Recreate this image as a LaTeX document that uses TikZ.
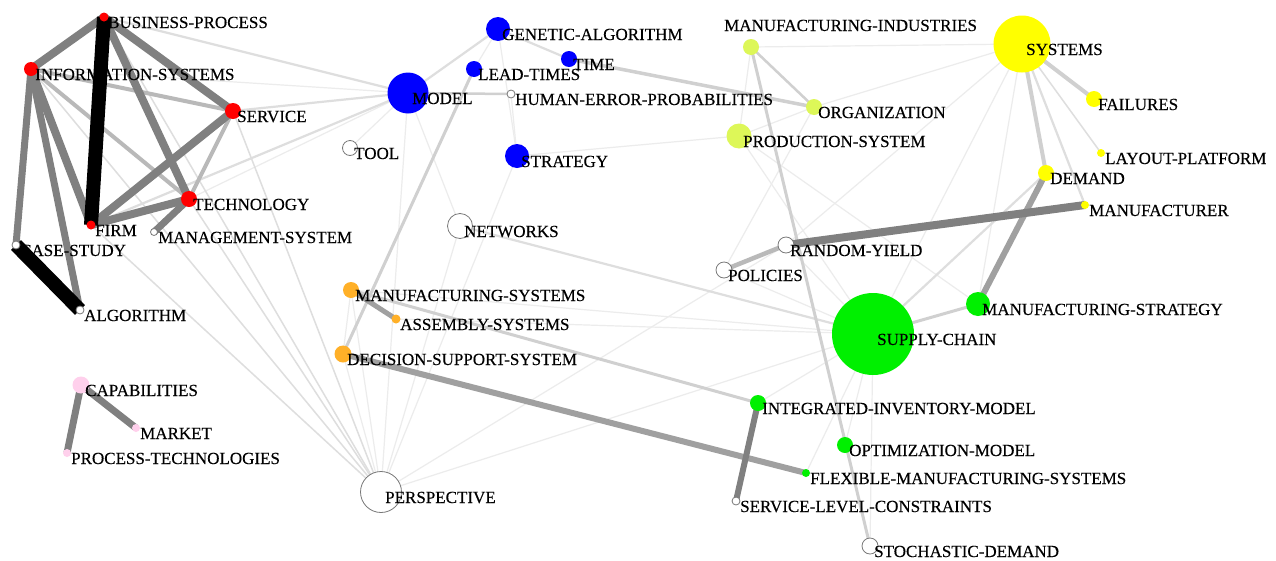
\documentclass[tikz,border=0pt]{standalone}
\usepackage{fontspec}
\setmainfont{Liberation Serif}[FakeBold=0.3]
\pgfdeclarelayer{bg}
\pgfdeclarelayer{edges}
\pgfdeclarelayer{lab}
\pgfsetlayers{bg,edges,main,lab}
\definecolor{cred}{RGB}{255,0,0}
\definecolor{cblue}{RGB}{0,0,255}
\definecolor{cyel}{RGB}{255,255,0}
\definecolor{cyg}{RGB}{221,247,88}
\definecolor{cgreen}{RGB}{0,240,0}
\definecolor{corange}{RGB}{255,176,40}
\definecolor{cpink}{RGB}{255,208,236}
\definecolor{cwborder}{RGB}{120,120,120}
\definecolor{gK}{RGB}{0,0,0}
\definecolor{gD}{RGB}{128,128,128}
\definecolor{gM}{RGB}{160,160,160}
\definecolor{gL}{RGB}{185,185,185}
\definecolor{gV}{RGB}{208,208,208}
\definecolor{gW}{RGB}{222,222,222}
\definecolor{gF}{RGB}{236,236,236}
\tikzset{
  vf/.style={circle,inner sep=0pt,outer sep=0pt,fill=#1},
  vw/.style={circle,inner sep=0pt,outer sep=0pt,fill=white,draw=cwborder,line width=0.8pt},
  lbl/.style={anchor=base west,inner sep=0pt,font=\fontsize{17}{20}\selectfont},
  eK/.style={draw=gK,line width=14pt},
  eD/.style={draw=gD,line width=#1},
  eM/.style={draw=gM,line width=#1},
  eL/.style={draw=gL,line width=#1},
  eV/.style={draw=gV,line width=#1},
  eW/.style={draw=gW,line width=#1},
  eF/.style={draw=gF,line width=1.2pt},
}
\newcommand\vx[6]{%
  \node[#5, minimum size=#4pt] (#1) at (#2,#3) {};%
  \begin{pgfonlayer}{lab}\node[lbl] (#1-l) at ([xshift=4pt,yshift=-11pt]#1.center) {#6};\end{pgfonlayer}}
\begin{document}
\begin{tikzpicture}[x=1pt,y=-1pt]
\useasboundingbox (0,0) rectangle (1276,560);
\begin{pgfonlayer}{bg}\fill[white] (0,0) rectangle (1276,560);\end{pgfonlayer}
% red cluster
\vx{bp}{104}{17}{9}{vf=cred}{BUSINESS-PROCESS}
\vx{is}{31}{69}{14}{vf=cred}{INFORMATION-SYSTEMS}
\vx{sv}{233}{111}{16}{vf=cred}{SERVICE}
\vx{te}{189}{199}{16}{vf=cred}{TECHNOLOGY}
\vx{fi}{91}{225}{9}{vf=cred}{FIRM}
\vx{ms}{154}{232}{7}{vw}{MANAGEMENT-SYSTEM}
\vx{cs}{16}{245}{8}{vw}{CASE-STUDY}
\vx{al}{80}{310}{8}{vw}{ALGORITHM}
% blue cluster
\vx{mo}{408}{93}{41}{vf=cblue}{MODEL}
\vx{ga}{498}{29}{24}{vf=cblue}{GENETIC-ALGORITHM}
\vx{lt}{474}{69}{16}{vf=cblue}{LEAD-TIMES}
\vx{ti}{569}{59}{16}{vf=cblue}{TIME}
\vx{he}{511}{94}{8}{vw}{HUMAN-ERROR-PROBABILITIES}
\vx{to}{350}{148}{15}{vw}{TOOL}
\vx{st}{517}{156}{24}{vf=cblue}{STRATEGY}
\vx{nw}{460}{226}{25}{vw}{NETWORKS}
% yellow-green
\node[vf=cyg, minimum size=16pt] (mi) at (751,47) {};
\begin{pgfonlayer}{lab}\node[lbl] (mi-l) at (724,31) {MANUFACTURING-INDUSTRIES};\end{pgfonlayer}
\vx{og}{814}{107}{16}{vf=cyg}{ORGANIZATION}
\vx{ps}{739}{136}{25}{vf=cyg}{PRODUCTION-SYSTEM}
% yellow
\vx{sy}{1022}{44}{57}{vf=cyel}{SYSTEMS}
\vx{fa}{1094}{99}{16}{vf=cyel}{FAILURES}
\vx{lp}{1101}{153}{8}{vf=cyel}{LAYOUT-PLATFORM}
\vx{de}{1046}{173}{16}{vf=cyel}{DEMAND}
\vx{mf}{1085}{205}{8}{vf=cyel}{MANUFACTURER}
% white mid-right
\vx{ry}{786}{245}{16}{vw}{RANDOM-YIELD}
\vx{po}{724}{270}{16}{vw}{POLICIES}
% green
\vx{mst}{978}{304}{24}{vf=cgreen}{MANUFACTURING-STRATEGY}
\vx{sc}{873}{334}{82}{vf=cgreen}{SUPPLY-CHAIN}
\vx{ii}{758}{403}{16}{vf=cgreen}{INTEGRATED-INVENTORY-MODEL}
\vx{om}{845}{445}{16}{vf=cgreen}{OPTIMIZATION-MODEL}
\vx{fm}{806}{473}{8}{vf=cgreen}{FLEXIBLE-MANUFACTURING-SYSTEMS}
\vx{sl}{736}{501}{8}{vw}{SERVICE-LEVEL-CONSTRAINTS}
\vx{sd}{870}{546}{16}{vw}{STOCHASTIC-DEMAND}
% orange
\vx{msy}{351}{290}{16}{vf=corange}{MANUFACTURING-SYSTEMS}
\vx{as}{396}{319}{9}{vf=corange}{ASSEMBLY-SYSTEMS}
\vx{ds}{343}{354}{17}{vf=corange}{DECISION-SUPPORT-SYSTEM}
% pink
\vx{ca}{81}{385}{17}{vf=cpink}{CAPABILITIES}
\vx{mk}{136}{428}{8}{vf=cpink}{MARKET}
\vx{pt}{67}{453}{8}{vf=cpink}{PROCESS-TECHNOLOGIES}
% perspective
\vx{pe}{381}{492}{41}{vw}{PERSPECTIVE}

\begin{pgfonlayer}{edges}
% faint edges
\foreach \a/\b in {is/mo,te/mo,mo/to,mo/pe,mo/nw,ga/lt,ga/st,he/st,st/ps,st/pe,nw/pe,msy/pe,ds/pe,msy/ds,pe/sc,pe/ry,mi/ps,og/ps,sy/mi,sy/og,sy/sc,sy/mst,ps/sc,ps/mst,ry/sc,po/sc,ii/sc,om/sc,fm/sc,sd/sc,msy/sc,as/sc,sy/ry,og/po}
  \draw[eF] (\a.center) -- (\b.center);
% very light
\foreach \a/\b in {fi/pe,is/pe,te/pe,bp/pe,sv/pe,sy/lp}
  \draw[eW=1.5pt] (\a.center) -- (\b.center);
\foreach \a/\b in {bp/mo,fi/mo,sv/mo,ga/mo,ga/ti,sc/de,sy/mf,nw/sc}
  \draw[eW=2.2pt] (\a.center) -- (\b.center);
% light
\draw[eV=2.5pt] (mo.center) -- (he.center);
\draw[eV=2.5pt] (mi.center) -- (og.center);
\draw[eV=3pt] (sc.center) -- (mst.center);
\draw[eV=4pt] (sy.center) -- (de.center);
\draw[eV=4pt] (sy.center) -- (fa.center);
\draw[eV=3.5pt] (ti.center) -- (og.center);
\draw[eV=3pt] (mi.center) -- (sd.center);
\draw[eV=3pt] (ds.center) -- (lt.center);
\draw[eV=3pt] (msy.center) -- (ii.center);
% mid-light
\draw[eL=4pt] (is.center) -- (sv.center);
\draw[eL=4pt] (is.center) -- (te.center);
\draw[eL=4pt] (sv.center) -- (te.center);
\draw[eL=4.5pt] (po.center) -- (ry.center);
\draw[eM=5pt] (msy.center) -- (as.center);
\draw[eM=6pt] (ds.center) -- (fm.center);
\draw[eM=6pt] (de.center) -- (mst.center);
% dark
\draw[eD=8pt] (bp.center) -- (is.center);
\draw[eD=8pt] (bp.center) -- (sv.center);
\draw[eD=8pt] (bp.center) -- (te.center);
\draw[eD=7pt] (is.center) -- (cs.center);
\draw[eD=8pt] (is.center) -- (fi.center);
\draw[eD=7pt] (is.center) -- (al.center);
\draw[eD=8pt] (sv.center) -- (fi.center);
\draw[eD=8pt] (te.center) -- (fi.center);
\draw[eD=7pt] (te.center) -- (ms.center);
\draw[eD=7pt] (ca.center) -- (mk.center);
\draw[eD=7pt] (ca.center) -- (pt.center);
\draw[eD=8pt] (ry.center) -- (mf.center);
\draw[eD=6pt] (ii.center) -- (sl.center);
% black
\draw[eK] (bp.center) -- (fi.center);
\draw[eK] (cs.center) -- (al.center);
\end{pgfonlayer}
\end{tikzpicture}
\end{document}
